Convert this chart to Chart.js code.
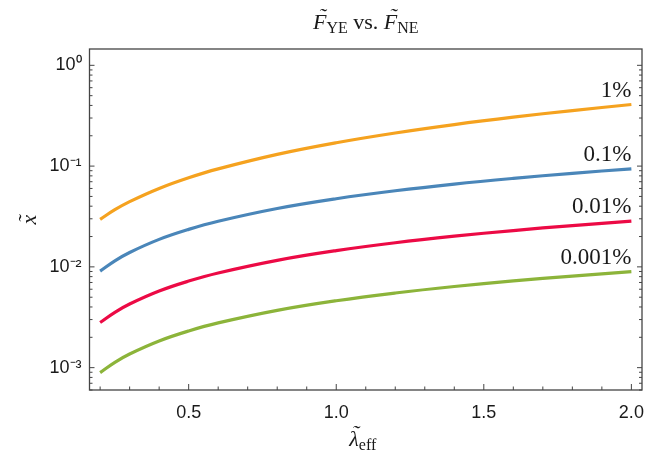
<!DOCTYPE html>
<html>
<head>
<meta charset="utf-8">
<script src="https://cdn.jsdelivr.net/npm/chart.js@4"></script>
<style>
  html, body { margin: 0; padding: 0; background: #fff; }
  #wrap { width: 664px; height: 466px; position: relative; }
</style>
</head>
<body>
<div id="wrap"><canvas id="c" width="664" height="466"></canvas></div>
<script>
// ---- data ----
const lambdaEff = [0.2, 0.25, 0.3, 0.4, 0.5, 0.6, 0.8, 1.0, 1.2, 1.4, 1.6, 1.8, 2.0];
const x1pct     = [0.0296, 0.0369, 0.0444, 0.0600, 0.0766, 0.0939, 0.1308, 0.1706, 0.2132, 0.2582, 0.3059, 0.3559, 0.4083];
const x01pct    = [0.00908, 0.01149, 0.0139, 0.01874, 0.02355, 0.02836, 0.03795, 0.04745, 0.05689, 0.0663, 0.07554, 0.08482, 0.09397];
const x001pct   = [0.002802, 0.003541, 0.004281, 0.005761, 0.007228, 0.0087, 0.01161, 0.01449, 0.01734, 0.02015, 0.02294, 0.0257, 0.02844];
const x0001pct  = [0.000893, 0.00113, 0.001367, 0.001841, 0.002312, 0.002778, 0.0037, 0.004609, 0.0055, 0.006381, 0.007252, 0.008108, 0.008954];
const seriesLabels = ['1%', '0.1%', '0.01%', '0.001%'];
const seriesColors = ['#F5A21F', '#4A86B9', '#EC0A45', '#8CB43A'];
const xTickValues = [0.2,0.3,0.4,0.5,0.6,0.7,0.8,0.9,1.0,1.1,1.2,1.3,1.4,1.5,1.6,1.7,1.8,1.9,2.0];
const xMajorTicks = [0.5, 1.0, 1.5, 2.0];
const yDecades = [-4, -3, -2, -1, 0];
const yLabelDecades = [-3, -2, -1, 0];
const yTickLabels = ['10\u207B\u00B3', '10\u207B\u00B2', '10\u207B\u00B9', '10\u2070'];
// title "F~_YE vs. F~_NE", x title "lambda~_eff", y title "x~"
const titleParts = ['F', 'YE', ' vs. ', 'F', 'NE'];
const xTitleParts = ['\u03BB', 'eff'];
const yTitle = 'x';
const TILDE = '\u02DC';

const allSeries = [x1pct, x01pct, x001pct, x0001pct];
const datasets = allSeries.map((arr, i) => ({
  label: seriesLabels[i],
  data: lambdaEff.map((l, j) => ({x: l, y: arr[j]})),
  borderColor: seriesColors[i],
  backgroundColor: seriesColors[i],
  borderWidth: 3.2,
  pointRadius: 0,
  fill: false,
  tension: 0.4
}));

const FRAME = '#444';
const SERIF = '"Liberation Serif", "DejaVu Serif", serif';

function isMajorX(v) { return xMajorTicks.some(m => Math.abs(m - v) < 1e-6); }

function drawRich(ctx, parts, x, y, align) {
  let total = 0;
  parts.forEach(p => { ctx.font = p.font; p.w = ctx.measureText(p.t).width; total += p.w; });
  let cx = align === 'center' ? x - total / 2 : (align === 'right' ? x - total : x);
  ctx.textBaseline = 'alphabetic';
  parts.forEach(p => {
    ctx.font = p.font;
    ctx.textAlign = 'left';
    ctx.fillText(p.t, cx, y + (p.dy || 0));
    if (p.acc) {
      ctx.textAlign = 'center';
      ctx.fillText(p.acc, cx + p.w / 2 + (p.accDx || 0), y + (p.accDy || 0));
    }
    cx += p.w;
  });
}

const decor = {
  id: 'decor',
  afterDraw(chart) {
    const ctx = chart.ctx;
    const a = chart.chartArea;
    const xs = chart.scales.x, ys = chart.scales.y;
    ctx.save();
    ctx.strokeStyle = FRAME;
    ctx.lineWidth = 1.3;
    ctx.strokeRect(a.left, a.top, a.right - a.left, a.bottom - a.top);
    ctx.lineWidth = 1;
    xTickValues.forEach(v => {
      const px = xs.getPixelForValue(v);
      const len = isMajorX(v) ? 6 : 3.5;
      ctx.beginPath(); ctx.moveTo(px, a.bottom); ctx.lineTo(px, a.bottom - len); ctx.stroke();
    });
    yDecades.forEach(d => {
      for (let m = 1; m <= 9; m++) {
        const v = m * Math.pow(10, d);
        if (v < ys.min || v > ys.max) continue;
        const py = ys.getPixelForValue(v);
        const len = m === 1 ? 5 : 3;
        ctx.beginPath(); ctx.moveTo(a.left, py); ctx.lineTo(a.left + len, py); ctx.stroke();
        ctx.beginPath(); ctx.moveTo(a.right, py); ctx.lineTo(a.right - len, py); ctx.stroke();
      }
    });
    ctx.fillStyle = '#1a1a1a';
    const big = '22px ' + SERIF, bigI = 'italic 22px ' + SERIF, sub = '16px ' + SERIF;
    const cx = (a.left + a.right) / 2;
    drawRich(ctx, [
      {t: titleParts[0], font: bigI, acc: TILDE, accDx: 2.5, accDy: -6}, {t: titleParts[1], font: sub, dy: 4},
      {t: titleParts[2], font: big},
      {t: titleParts[3], font: bigI, acc: TILDE, accDx: 2.5, accDy: -6}, {t: titleParts[4], font: sub, dy: 4}
    ], cx, 29, 'center');
    drawRich(ctx, [
      {t: xTitleParts[0], font: bigI, acc: TILDE, accDx: 1.5, accDy: -6}, {t: xTitleParts[1], font: sub, dy: 4}
    ], cx - 3, 446, 'center');
    ctx.save();
    ctx.translate(36, (a.top + a.bottom) / 2);
    ctx.rotate(-Math.PI / 2);
    drawRich(ctx, [{t: yTitle, font: bigI, acc: TILDE, accDx: 0.5, accDy: -3}], 0, 0, 'center');
    ctx.restore();
    ctx.font = '23px ' + SERIF;
    chart.data.datasets.forEach((ds) => {
      const last = ds.data[ds.data.length - 1];
      const px = xs.getPixelForValue(last.x);
      const py = ys.getPixelForValue(last.y);
      ctx.textAlign = 'right';
      ctx.textBaseline = 'alphabetic';
      ctx.fillText(ds.label, px, py - 8);
    });
    ctx.restore();
  }
};

new Chart(document.getElementById('c'), {
  type: 'line',
  data: { datasets },
  options: {
    responsive: false,
    animation: false,
    layout: { padding: { left: 0, right: 22, top: 49, bottom: 0 } },
    plugins: { legend: { display: false }, tooltip: { enabled: false }, title: { display: false } },
    scales: {
      x: {
        type: 'linear',
        min: 0.164, max: 2.036,
        afterBuildTicks: s => { s.ticks = xTickValues.map(v => ({value: v})); },
        afterFit: s => { s.height = 76; },
        grid: { display: false, drawTicks: false },
        border: { display: false },
        ticks: {
          autoSkip: false, maxRotation: 0, padding: 12,
          color: '#1a1a1a',
          font: { family: '"Liberation Sans", Arial, sans-serif', size: 18 },
          callback: v => isMajorX(v) ? v.toFixed(1) : ''
        }
      },
      y: {
        type: 'logarithmic',
        min: Math.pow(10, -3.215), max: Math.pow(10, 0.162),
        afterBuildTicks: s => { s.ticks = yLabelDecades.map(d => ({value: Math.pow(10, d)})); },
        afterFit: s => { s.width = 89.5; },
        grid: { display: false, drawTicks: false },
        border: { display: false },
        ticks: {
          autoSkip: false, padding: 8,
          color: '#1a1a1a',
          font: { family: '"Liberation Sans", Arial, sans-serif', size: 18 },
          callback: v => {
            const e = Math.round(Math.log10(v));
            const i = yLabelDecades.indexOf(e);
            return i >= 0 ? yTickLabels[i] : '';
          }
        }
      }
    }
  },
  plugins: [decor]
});
</script>
</body>
</html>
